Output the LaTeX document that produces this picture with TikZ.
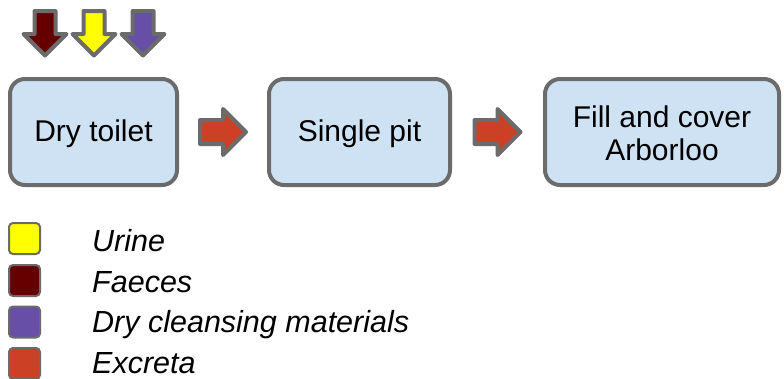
\documentclass[tikz,border=0pt]{standalone}
\usepackage{fontspec}
\setmainfont{Liberation Sans}
\usetikzlibrary{calc}
\definecolor{boxfill}{HTML}{CFE2F3}
\definecolor{edgegray}{HTML}{6B6B6B}
\definecolor{urinecol}{HTML}{FFFF00}
\definecolor{faecescol}{HTML}{660000}
\definecolor{drycol}{HTML}{674EA7}
\definecolor{excretacol}{HTML}{CC4125}
\tikzset{
  stage/.style={draw=edgegray, line width=4pt, fill=boxfill, rounded corners=15pt,
    minimum height=106pt, align=center, inner sep=0pt,
    font=\fontsize{30}{33}\selectfont},
  stagelabel/.style={align=center, inner sep=0pt, font=\fontsize{30}{33}\selectfont},
  blockarrow/.style={draw=edgegray, line width=4pt, line join=round},
  swatch/.style={draw=edgegray, line width=2pt, rounded corners=4pt,
    minimum width=31pt, minimum height=31pt, inner sep=0pt},
  legendtext/.style={anchor=base west, inner sep=0pt,
    font=\fontsize{30.5}{33}\selectfont\itshape},
}
\begin{document}
\begin{tikzpicture}[x=1pt, y=-1pt]
  \useasboundingbox (0,0) rectangle (784,378);

  % process stages
  \node[stage, minimum width=167pt] (toilet) at (93.5,132) {};
  \node[stage, minimum width=181pt] (pit)    at (359.5,132) {};
  \node[stage, minimum width=234pt] (fill)   at (662,132) {};
  \node[stagelabel] (toiletlabel) at ($(toilet.center)+(0,1.5)$) {Dry toilet};
  \node[stagelabel] (pitlabel)    at ($(pit.center)+(0,1.5)$) {Single pit};
  \node[stagelabel] (filllabel)   at ($(fill.center)+(0,1.5)$) {Fill and cover\\Arborloo};

  % block arrows carrying excreta between stages
  \coordinate (m1) at ($(toilet.east)!0.5!(pit.west)$);
  \coordinate (m2) at ($(pit.east)!0.5!(fill.west)$);
  \foreach \m in {m1,m2}{
    \draw[blockarrow, fill=excretacol, shift={(\m)}]
      (-23,-12) -- (0,-12) -- (0,-23) -- (23,0) -- (0,23) -- (0,12) -- (-23,12) -- cycle;
  }

  % inputs entering the toilet
  \coordinate (in1) at (45,0);
  \coordinate (in2) at (94,0);
  \coordinate (in3) at (143,0);
  \foreach \p/\c in {in1/faecescol, in2/urinecol, in3/drycol}{
    \draw[blockarrow, fill=\c, shift={(\p)}]
      (-10.5,11) -- (10.5,11) -- (10.5,34) -- (21.5,34) -- (0,55.5) -- (-21.5,34) -- (-10.5,34) -- cycle;
  }

  % legend
  \node[swatch, fill=urinecol]   (ku) at (24.5,238.5) {};
  \node[swatch, fill=faecescol]  (kf) at (24.5,280.5) {};
  \node[swatch, fill=drycol]     (kd) at (24.5,322) {};
  \node[swatch, fill=excretacol] (ke) at (24.5,363.5) {};
  \node[legendtext] (lu) at (92,251) {Urine};
  \node[legendtext] (lf) at (92,292) {Faeces};
  \node[legendtext] (ld) at (92,332) {Dry cleansing materials};
  \node[legendtext] (le) at (92,373) {Excreta};
\end{tikzpicture}
\end{document}
